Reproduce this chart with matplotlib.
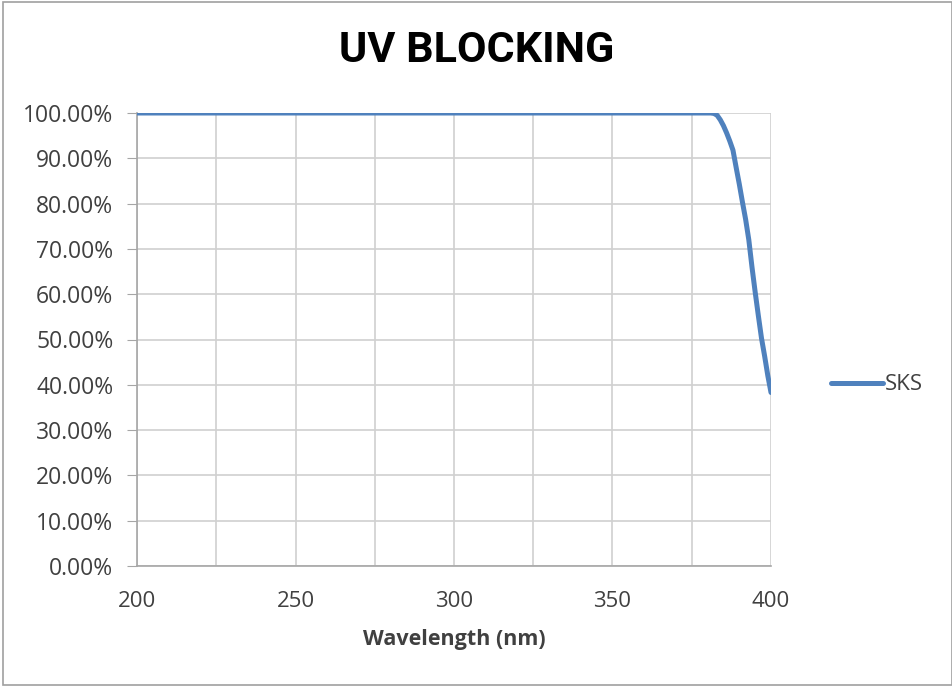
import matplotlib
matplotlib.use("Agg")
import matplotlib.pyplot as plt
from matplotlib.ticker import FuncFormatter, MultipleLocator
from matplotlib.patches import Rectangle

# Data
wavelength = [200, 225, 250, 275, 300, 325, 350, 375, 380, 381, 382, 383, 384, 385,
              386, 387, 388, 389, 390, 391, 392, 393, 394, 395, 396, 397, 398, 399, 400]
blocking = [100, 100, 100, 100, 100, 100, 100, 100, 100, 100, 99.9, 99.5, 98.5, 97.2,
            95.6, 93.8, 91.8, 88.0, 84.3, 80.3, 76.5, 72.0, 66.0, 60.5, 55.3, 50.3, 46.3, 42.0, 38.3]
series_name = "SKS"
title = "UV BLOCKING"
xlabel = "Wavelength (nm)"

fig = plt.figure(figsize=(9.53, 6.87), dpi=100)
ax = fig.add_axes([137/953, 1-566/687, (771-137)/953, (566-113)/687])

ax.plot(wavelength, blocking, color="#4F81BD", lw=3.6, solid_capstyle="round",
        solid_joinstyle="round", label=series_name, zorder=3)

ax.set_xlim(200, 400)
ax.set_ylim(0, 100)
ax.xaxis.set_major_locator(MultipleLocator(50))
ax.xaxis.set_minor_locator(MultipleLocator(25))
ax.yaxis.set_major_locator(MultipleLocator(10))
ax.yaxis.set_major_formatter(FuncFormatter(lambda v, p: f"{v:.2f}%"))

ax.grid(True, which="both", color="#D0D0D0", lw=1.2)
ax.set_axisbelow(True)
for side in ["top", "right"]:
    ax.spines[side].set_visible(False)
ax.spines["left"].set_color("#A6A6A6")
ax.spines["bottom"].set_color("#A6A6A6")
ax.spines["left"].set_linewidth(1.2)
ax.spines["bottom"].set_linewidth(1.2)
ax.tick_params(axis="y", which="major", length=7, color="#A6A6A6", direction="out",
               labelsize=16.5, labelcolor="#404040", pad=10)
ax.tick_params(axis="x", which="both", length=0, labelsize=16, labelcolor="#404040", pad=18)
for lab in ax.get_xticklabels() + ax.get_yticklabels():
    lab.set_family(["Open Sans", "DejaVu Sans"])

ax.set_xlabel(xlabel, fontsize=15.5, fontweight="bold", color="#404040",
              family=["Open Sans", "DejaVu Sans"], labelpad=12)

fig.text(477/953, 1-50/687, title, ha="center", va="center", fontsize=31,
         fontweight="bold", family=["Roboto", "DejaVu Sans"], color="black")

leg = ax.legend(loc="center left", bbox_to_anchor=(1.08, 1-(385-113)/(566-113)),
                frameon=False, handlelength=2.35, handletextpad=0.1, borderaxespad=0,
                prop={"family": ["Open Sans", "DejaVu Sans"], "size": 16})
for t in leg.get_texts():
    t.set_color("#404040")

fig.patches.append(Rectangle((3/953, 2/687), 949/953, 683/687, transform=fig.transFigure,
                             fill=False, edgecolor="#A0A0A0", lw=1.2))

fig.savefig("out.png", dpi=100)
